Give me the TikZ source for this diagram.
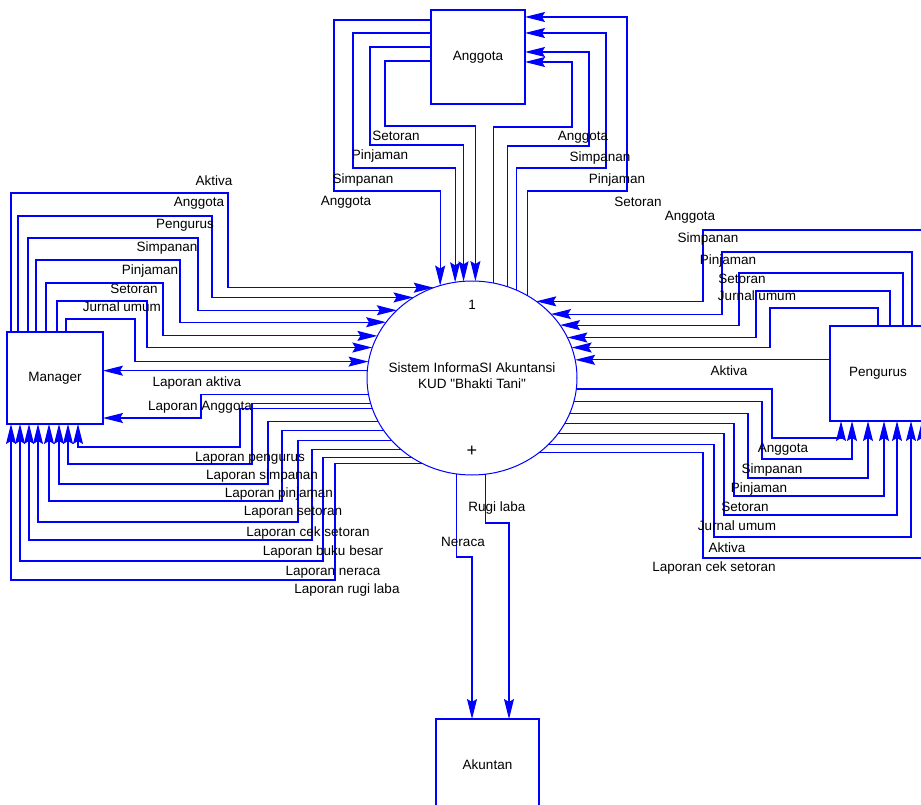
\documentclass[tikz,border=0pt]{standalone}
\usepackage{fontspec}
\newfontfamily\diafont{Liberation Sans}
\usetikzlibrary{arrows.meta}
\usetikzlibrary{shapes.geometric}

\tikzset{
  ent/.style={draw=blue, line width=1.1pt, minimum width=96pt, minimum height=93pt, inner sep=0pt, outer sep=0pt},
  flow/.style={draw=blue, line width=1.1pt, -{Stealth[length=20pt, width=10pt, inset=3pt]}},
  lbl/.style={inner sep=0pt},
}

\begin{document}
\begin{tikzpicture}[x=1pt, y=-1pt, font=\diafont\fontsize{13.5}{16}\selectfont]
  \useasboundingbox (0,0) rectangle (921,805);

  % entitas luar dan proses
  \node[ent, minimum width=94pt, minimum height=94pt] (ang) at (478,57) {Anggota};
  \node[ent, minimum height=92pt] (mgr) at (55,378) {Manager};
  \node[ent, minimum height=95pt] (pen) at (878,373.5) {Pengurus};
  \node[ent, minimum width=103pt, minimum height=92pt] (akt) at (487.5,765) {Akuntan};
  \node[ellipse, draw=blue, line width=1pt, minimum width=210pt, minimum height=194pt,
        inner sep=0pt, outer sep=0pt] (proc) at (472,378) {};
  \node[lbl, align=center] (procname) at (472,376) {Sistem InformaSI Akuntansi\\KUD "Bhakti Tani"};
  \node[lbl] (procnum) at (472,305) {1};
  \node[lbl, font=\diafont\fontsize{18}{18}\selectfont] (procplus) at (472,451) {+};

  % Anggota -> sistem
  \draw[flow] (ang.west |- 0,20) -| (334,191) -| (proc.109.1);
  \draw[flow] (ang.west |- 0,33) -| (353,168) -| (proc.100.7);
  \draw[flow] (ang.west |- 0,47) -| (370,145) -| (proc.95.3);
  \draw[flow] (ang.west |- 0,61) -| (385,126) -| (proc.88.2);
  \node[lbl] (aIn1) at (346,202) {Anggota};
  \node[lbl] (aIn2) at (363,180) {Simpanan};
  \node[lbl] (aIn3) at (380,156) {Pinjaman};
  \node[lbl] (aIn4) at (396,136) {Setoran};

  % sistem -> Anggota
  \draw[flow] (proc.77.5) |- (572,127) |- (ang.east |- 0,62);
  \draw[flow] (proc.69.7) |- (589,146) |- (ang.east |- 0,52);
  \draw[flow] (proc.63.5) |- (606,168) |- (ang.east |- 0,33);
  \draw[flow] (proc.56.3) |- (627,191) |- (ang.east |- 0,17);
  \node[lbl] (aOut1) at (583,137) {Anggota};
  \node[lbl] (aOut2) at (600,158) {Simpanan};
  \node[lbl] (aOut3) at (617,180) {Pinjaman};
  \node[lbl] (aOut4) at (638,202) {Setoran};

  % Manager -> sistem
  \draw[flow] (mgr.north -| 11,0) |- (228,193) |- (proc.113.5);
  \draw[flow] (mgr.north -| 18,0) |- (212,216) |- (proc.126.6);
  \draw[flow] (mgr.north -| 28,0) |- (198,238) |- (proc.138.6);
  \draw[flow] (mgr.north -| 36,0) |- (180,260) |- (proc.147.6);
  \draw[flow] (mgr.north -| 46,0) |- (163,283) |- (proc.156.1);
  \draw[flow] (mgr.north -| 57,0) |- (147,301) |- (proc.163.3);
  \draw[flow] (mgr.north -| 66,0) |- (135,319) |- (proc.171.8);
  \node[lbl] (mIn1) at (214,181) {Aktiva};
  \node[lbl] (mIn2) at (199,203) {Anggota};
  \node[lbl] (mIn3) at (185,225) {Pengurus};
  \node[lbl] (mIn4) at (167,248) {Simpanan};
  \node[lbl] (mIn5) at (150,271) {Pinjaman};
  \node[lbl] (mIn6) at (134,289) {Setoran};
  \node[lbl] (mIn7) at (122,307) {Jurnal umum};

  % sistem -> Manager
  \draw[flow] (proc.176.7) -- (proc.176.7 -| mgr.east);
  \draw[flow] (proc.189.9) -| (201,418) -- (201,418 -| mgr.east);
  \draw[flow] (proc.197.9) -| (240,447) -| (mgr.south -| 78,0);
  \draw[flow] (proc.194.4) -| (252,464) -| (mgr.south -| 68,0);
  \draw[flow] (proc.205.2) -| (268,484) -| (mgr.south -| 59,0);
  \draw[flow] (proc.211.1) -| (282,501) -| (mgr.south -| 49,0);
  \draw[flow] (proc.218.3) -| (298,522) -| (mgr.south -| 38,0);
  \draw[flow] (proc.225.6) -| (312,540) -| (mgr.south -| 29,0);
  \draw[flow] (proc.233.4) -| (323,561) -| (mgr.south -| 20,0);
  \draw[flow] (proc.240.5) -| (335,580) -| (mgr.south -| 11,0);
  \node[lbl] (mOut1) at (197,383) {Laporan aktiva};
  \node[lbl] (mOut2) at (200,407) {Laporan Anggota};
  \node[lbl] (mOut3) at (250,458) {Laporan pengurus};
  \node[lbl] (mOut4) at (262,476) {Laporan simpanan};
  \node[lbl] (mOut5) at (279,494) {Laporan pinjaman};
  \node[lbl] (mOut6) at (293,512) {Laporan setoran};
  \node[lbl] (mOut7) at (308,533) {Laporan cek setoran};
  \node[lbl] (mOut8) at (323,552) {Laporan buku besar};
  \node[lbl] (mOut9) at (333,572) {Laporan neraca};
  \node[lbl] (mOut10) at (347,590) {Laporan rugi laba};

  % Pengurus -> sistem
  \draw[flow] (pen.north -| 923,0) |- (703,230) |- (proc.50.3);
  \draw[flow] (pen.north -| 912,0) |- (722,252) |- (proc.39.8);
  \draw[flow] (pen.north -| 903,0) |- (739,273) |- (proc.31.8);
  \draw[flow] (pen.north -| 890,0) |- (756,291) |- (proc.23.3);
  \draw[flow] (pen.north -| 878,0) |- (770,308) |- (proc.17.9);
  \draw[flow] (proc.10.5 -| pen.west) -- (proc.10.5);
  \node[lbl] (pIn1) at (690,217) {Anggota};
  \node[lbl] (pIn2) at (708,239) {Simpanan};
  \node[lbl] (pIn3) at (728,261) {Pinjaman};
  \node[lbl] (pIn4) at (742,279) {Setoran};
  \node[lbl] (pIn5) at (757,296) {Jurnal umum};
  \node[lbl] (pIn6) at (729,371) {Aktiva};

  % sistem -> Pengurus
  \draw[flow] (proc.354) -| (772,438) -| (pen.south -| 841,0);
  \draw[flow] (proc.347.9) -| (762,459) -| (pen.south -| 852,0);
  \draw[flow] (proc.340.9) -| (748,478) -| (pen.south -| 868,0);
  \draw[flow] (proc.334.2) -| (734,496) -| (pen.south -| 884,0);
  \draw[flow] (proc.327.5) -| (724,515) -| (pen.south -| 897,0);
  \draw[flow] (proc.319.4) -| (714,537) -| (pen.south -| 911,0);
  \draw[flow] (proc.312.5) -| (703,558) -| (pen.south -| 922,0);
  \node[lbl] (pOut1) at (783,449) {Anggota};
  \node[lbl] (pOut2) at (772,470) {Simpanan};
  \node[lbl] (pOut3) at (759,489) {Pinjaman};
  \node[lbl] (pOut4) at (745,507) {Setoran};
  \node[lbl] (pOut5) at (737,526) {Jurnal umum};
  \node[lbl] (pOut6) at (727,548) {Aktiva};
  \node[lbl] (pOut7) at (714,568) {Laporan cek setoran};

  % sistem -> Akuntan
  \draw[flow] (proc.261.1) |- (472,557) -- (472,557 |- akt.north);
  \draw[flow] (proc.278.9) |- (509,523) -- (509,523 |- akt.north);
  \node[lbl] (kOut1) at (463,542) {Neraca};
  \node[lbl] (kOut2) at (497,508) {Rugi laba};
\end{tikzpicture}
\end{document}
